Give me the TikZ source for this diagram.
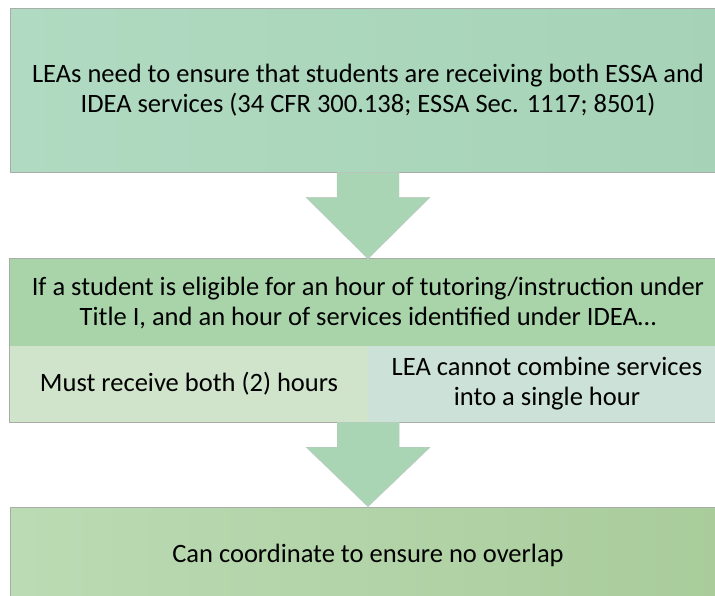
\documentclass[tikz,border=0pt]{standalone}
\usepackage{fontspec}
\setmainfont{Carlito}
\usetikzlibrary{calc}

\definecolor{mintL}{HTML}{B0DAC1}
\definecolor{mintR}{HTML}{A6D3B7}
\definecolor{arrowgreen}{HTML}{A9D5B4}
\definecolor{headgreen}{HTML}{A9D4AA}
\definecolor{paleL}{HTML}{D0E3CB}
\definecolor{paleR}{HTML}{CCE1D7}
\definecolor{sageL}{HTML}{BBDBB4}
\definecolor{sageR}{HTML}{A9CC9B}
\definecolor{edgegray}{HTML}{A8ADA8}

\tikzset{
  panel/.style={inner sep=0pt,align=center,text=black},
  edge/.style={draw=edgegray,line width=0.7pt},
  blockarrow/.style={fill=arrowgreen,draw=edgegray!70,line width=0.4pt}
}

\begin{document}
\begin{tikzpicture}[x=1pt,y=-1pt,font=\fontsize{26.5}{30}\selectfont]
\path[use as bounding box,clip] (0,0) rectangle (715,595);

% top statement
\node[panel,edge,left color=mintL,right color=mintR,
      minimum width=716pt,minimum height=164pt] (lea) at (368,90)
  {LEAs need to ensure that students are receiving both ESSA and\\
   IDEA services (34 CFR 300.138; ESSA Sec. 1117; 8501)};

% middle block: header plus two cells
\node[panel,fill=headgreen,minimum width=716pt,minimum height=87pt] (hour) at (368,302.5)
  {If a student is eligible for an hour of tutoring/instruction under\\
   Title I, and an hour of services identified under IDEA\ldots};
\node[panel,fill=paleL,minimum width=358pt,minimum height=76pt] (both) at (189,384)
  {Must receive both (2) hours};
\node[panel,fill=paleR,minimum width=358pt,minimum height=76pt] (combine) at (547,384)
  {LEA cannot combine services\\ into a single hour};
\draw[edge] (hour.north west) rectangle (combine.south east);

% bottom statement
\node[panel,edge,left color=sageL,right color=sageR,
      minimum width=716pt,minimum height=96pt] (overlap) at (368,555)
  {Can coordinate to ensure no overlap};

% block arrows (shaft 62 wide, head 124 wide)
\draw[blockarrow] ($(lea.south)+(-31,0)$) -- ($(lea.south)+(31,0)$)
  -- ($(lea.south)+(31,25)$) -- ($(lea.south)+(62,25)$) -- (hour.north)
  -- ($(lea.south)+(-62,25)$) -- ($(lea.south)+(-31,25)$) -- cycle;
\draw[blockarrow] ($(both.south east)+(-31,0)$) -- ($(both.south east)+(31,0)$)
  -- ($(both.south east)+(31,25)$) -- ($(both.south east)+(62,25)$) -- (overlap.north)
  -- ($(both.south east)+(-62,25)$) -- ($(both.south east)+(-31,25)$) -- cycle;
\end{tikzpicture}
\end{document}
